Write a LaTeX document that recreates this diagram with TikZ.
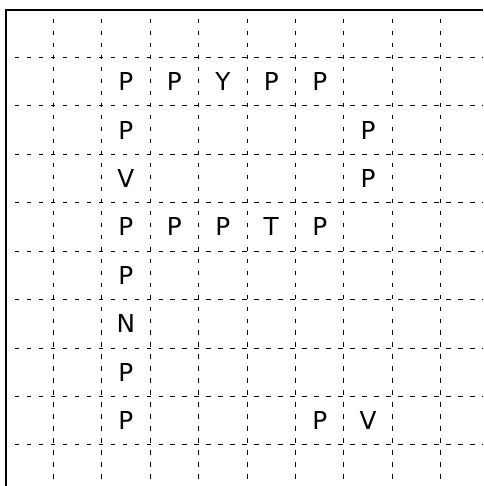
\documentclass[tikz,border=0pt]{standalone}
\usepackage{fontspec}
\setmainfont{DejaVu Sans}
\begin{document}
\begin{tikzpicture}[
  gridline/.style={line width=0.6pt, dash pattern=on 0.09cm off 0.1575cm, dash phase=0.045cm},
  border/.style={line width=1.2pt},
  cell/.style={font=\fontsize{14.5}{16}\selectfont, inner sep=0pt, anchor=center}
]
\useasboundingbox (-0.099,0.184) rectangle (9.880,-9.847);
% dashed grid
\foreach \i in {1,...,9} {
  \draw[gridline] (0,-\i) -- (9.88,-\i);
  \draw[gridline] (\i,0) -- (\i,-9.847);
}
% solid border
\draw[border] (0.02,-9.847) -- (0.02,-0.02) -- (9.88,-0.02);
% letters
\foreach \c/\r/\t [count=\k] in {2/1/P,3/1/P,4/1/Y,5/1/P,6/1/P,
  2/2/P,7/2/P,
  2/3/V,7/3/P,
  2/4/P,3/4/P,4/4/P,5/4/T,6/4/P,
  2/5/P,2/6/N,2/7/P,
  2/8/P,6/8/P,7/8/V} {
  \node[cell] (n\k) at (\c+0.5,-\r-0.5) {\t};
}
\end{tikzpicture}
\end{document}
